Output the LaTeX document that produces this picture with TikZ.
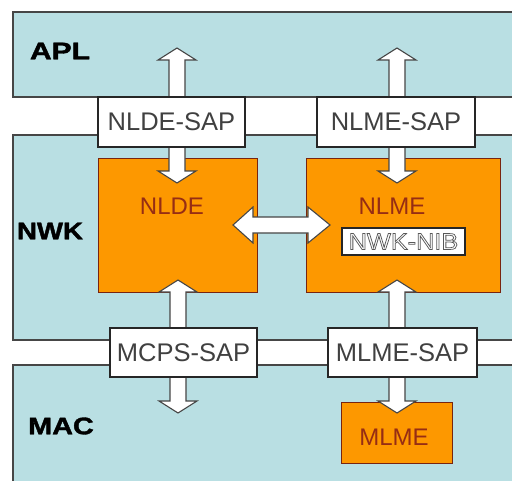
\documentclass[tikz,border=0pt]{standalone}
\usepackage{fontspec}
\setmainfont{Liberation Sans}
\newfontfamily\heavyfont[FakeBold=1.5]{Liberation Sans Bold}
\usetikzlibrary{calc}
\definecolor{layerblue}{RGB}{185,223,227}
\definecolor{boxorange}{RGB}{253,152,0}
\definecolor{txtbrown}{RGB}{150,45,20}
\definecolor{edgegray}{RGB}{70,70,70}
\newcommand\outlinetext[1]{\special{pdf:literal direct 2 Tr 0.7 w 0.35 G 1 g}#1\special{pdf:literal direct 0 Tr}}
\tikzset{
  layer/.style={fill=layerblue, draw=none},
  layeredge/.style={draw=edgegray, line width=1.4pt},
  sapbox/.style={draw=black!85, line width=2.6pt, fill=white, inner sep=0pt,
    font=\fontsize{25.5}{25.5}\selectfont, text=black!75},
  entity/.style={draw=txtbrown!80!black, line width=0.9pt, fill=boxorange, inner sep=0pt},
  entlabel/.style={font=\fontsize{24}{24}\selectfont, text=txtbrown},
  layerlabel/.style={font=\heavyfont\fontsize{24}{24}\selectfont, text=black},
  blockarrow/.style={draw=edgegray, line width=1.1pt, fill=white, line join=miter},
  nibbox/.style={draw=black!85, line width=2.6pt, fill=white, inner sep=0pt,
    font=\fontsize{23}{23}\selectfont, text=black!55}
}
\newcommand\VArrow[3]{%
  \draw[blockarrow] (#1,#2) -- (#1+19,#2+12) -- (#1+8,#2+12) -- (#1+8,#3-12)
    -- (#1+19,#3-12) -- (#1,#3) -- (#1-19,#3-12) -- (#1-8,#3-12)
    -- (#1-8,#2+12) -- (#1-19,#2+12) -- cycle;}
\newcommand\HArrow[3]{%
  \draw[blockarrow] (#1,#3) -- (#1+20,#3-18) -- (#1+20,#3-8) -- (#2-22,#3-8)
    -- (#2-22,#3-18) -- (#2,#3) -- (#2-22,#3+18) -- (#2-22,#3+8)
    -- (#1+20,#3+8) -- (#1+20,#3+18) -- cycle;}
\begin{document}
\begin{tikzpicture}[x=1pt,y=-1pt]
\useasboundingbox (0,0) rectangle (512,480);
\fill[white] (0,0) rectangle (512,480);
% layers
\fill[layer] (13,12) rectangle (515,97);
\fill[layer] (13,135) rectangle (515,340);
\fill[layer] (13,365) rectangle (515,485);
\draw[layeredge] (515,12) -- (13,12) -- (13,97) -- (515,97);
\draw[layeredge] (515,135) -- (13,135) -- (13,340) -- (515,340);
\draw[layeredge] (515,365) -- (13,365) -- (13,485);
\node[layerlabel] (apl) at (60,51) {\scalebox{1.25}[1]{APL}};
\node[layerlabel] (nwk) at (50,231) {\scalebox{1.15}[1]{NWK}};
\node[layerlabel] (mac) at (61,426) {\scalebox{1.2}[1]{MAC}};
% entities
\node[entity, minimum width=159pt, minimum height=134pt] (nlde) at (177.5,225) {};
\node[entity, minimum width=194pt, minimum height=134pt] (nlme) at (403,225) {};
\node[entity, minimum width=111pt, minimum height=61pt] (mlme) at (396.5,432.5) {};
\node[entlabel] (nldet) at (172,206) {NLDE};
\node[entlabel] (nlmet) at (392,206) {NLME};
\node[entlabel] (mlmet) at (394,437) {MLME};
\node[nibbox, minimum width=123pt, minimum height=27pt] (nib) at (403.5,241.5) {\scalebox{1.1}[1]{\outlinetext{NWK-NIB}}};
% block arrows
\VArrow{177}{48}{183}
\VArrow{397}{48}{183}
\VArrow{178}{280}{413}
\VArrow{397}{280}{413}
\HArrow{233}{330}{225}
% SAP boxes
\node[sapbox, minimum width=147pt, minimum height=50pt] (nldesap) at (171.5,122) {NLDE-SAP};
\node[sapbox, minimum width=158pt, minimum height=50pt] (nlmesap) at (396,122) {NLME-SAP};
\node[sapbox, minimum width=147pt, minimum height=49pt] (mcpssap) at (183.5,352.5) {MCPS-SAP};
\node[sapbox, minimum width=149pt, minimum height=49pt] (mlmesap) at (402.5,352.5) {MLME-SAP};
\end{tikzpicture}
\end{document}
